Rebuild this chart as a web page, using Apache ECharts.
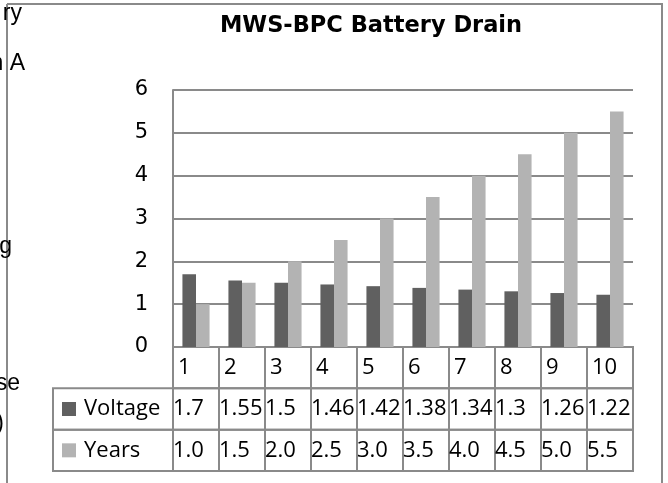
<!DOCTYPE html>
<html><head><meta charset="utf-8">
<script src="https://cdn.jsdelivr.net/npm/echarts@6/dist/echarts.min.js"></script>
<style>html,body{margin:0;padding:0;background:#fff}#c{width:668px;height:483px}</style>
</head><body><div id="c"></div>
<script>
// ---- data ----
const titleText = 'MWS-BPC Battery Drain';
const categories = ['1','2','3','4','5','6','7','8','9','10'];
const seriesNames = ['Voltage','Years'];
const voltage = [1.7, 1.55, 1.5, 1.46, 1.42, 1.38, 1.34, 1.3, 1.26, 1.22];
const years = [1.0, 1.5, 2.0, 2.5, 3.0, 3.5, 4.0, 4.5, 5.0, 5.5];
const yMin = 0, yMax = 6, yStep = 1;
const sideTexts = ['ry', 'n A', 'g', 'se', ')'];

// ---- styles ----
const colors = ['#606060', '#b3b3b3'];
const lineColor = '#8a8a8a';
const tableFont = '22px "Open Sans"';
const legendColW = 120;

const voltageText = voltage.map(v => String(v));
const yearsText = years.map(v => v.toFixed(1));
const rowTexts = [voltageText, yearsText];

const cells = [];
categories.forEach((c, i) => {
  cells.push({ value: [i, 0], text: c, kind: 'cat' });
  rowTexts.forEach((arr, r) => cells.push({ value: [i, r + 1], text: arr[i], kind: 'val' }));
});
seriesNames.forEach((n, r) => cells.push({ value: [0, r + 1], text: n, kind: 'legend', color: colors[r] }));

function renderCell(params, api) {
  const cell = cells[params.dataIndex];
  const c = api.coord([api.value(0), api.value(1)]);
  const sz = api.size([1, 1]);
  let w = sz[0], h = sz[1];
  let x = c[0] - w / 2, y = c[1] - h / 2;
  const children = [];
  if (cell.kind === 'legend') {
    w = legendColW; x = x - legendColW;
    children.push({ type: 'rect', shape: { x: x, y: y, width: w, height: h },
      style: { fill: 'none', stroke: lineColor, lineWidth: 2 } });
    children.push({ type: 'rect', shape: { x: x + 9, y: y + h / 2 - 7, width: 14, height: 14 },
      style: { fill: cell.color } });
    children.push({ type: 'text', style: { text: cell.text, x: x + 31, y: y + h / 2,
      verticalAlign: 'middle', align: 'left', font: tableFont, fill: '#000' } });
  } else {
    children.push({ type: 'rect', shape: { x: x, y: y, width: w, height: h },
      style: { fill: 'none', stroke: lineColor, lineWidth: 2 } });
    children.push({ type: 'text', style: { text: cell.text, x: x + (cell.kind === 'cat' ? 5 : 0), y: y + h / 2,
      verticalAlign: 'middle', align: 'left', font: tableFont, fill: '#000' } });
  }
  return { type: 'group', children: children };
}

const sideY = [14, 64, 247, 384, 424];
const sideX = [22, 25, 12, 20, 4];
const graphics = [
  { type: 'line', shape: { x1: 7, y1: 4, x2: 663, y2: 4 }, style: { stroke: lineColor, lineWidth: 2 } },
  { type: 'line', shape: { x1: 7, y1: 4, x2: 7, y2: 483 }, style: { stroke: lineColor, lineWidth: 2 } },
  { type: 'line', shape: { x1: 662, y1: 4, x2: 662, y2: 483 }, style: { stroke: lineColor, lineWidth: 2 } }
].concat(sideTexts.map((t, i) => ({
  type: 'text', x: sideX[i], y: sideY[i], z: 10,
  style: { text: t, align: 'right', verticalAlign: 'middle', font: '23px "Liberation Sans"', fill: '#000' }
})));

const chart = echarts.init(document.getElementById('c'), null, { renderer: 'canvas' });
chart.setOption({
  animation: false,
  backgroundColor: '#fff',
  title: {
    text: titleText, left: 366, top: 10, textAlign: 'center',
    textStyle: { fontFamily: 'DejaVu Sans', fontWeight: 'bold', fontSize: 22.5, color: '#000' }
  },
  graphic: graphics,
  grid: [
    { left: 173, right: 35, top: 90, bottom: 136 },
    { left: 173, right: 35, top: 347, bottom: 12 }
  ],
  xAxis: [
    { type: 'category', gridIndex: 0, data: categories, axisLabel: { show: false }, axisTick: { show: false },
      axisLine: { lineStyle: { color: lineColor, width: 2 } } },
    { type: 'category', gridIndex: 1, data: categories, show: false }
  ],
  yAxis: [
    { type: 'value', gridIndex: 0, min: yMin, max: yMax, interval: yStep,
      axisLine: { show: true, lineStyle: { color: lineColor, width: 2 } }, axisTick: { show: false },
      axisLabel: { color: '#000', fontFamily: 'DejaVu Sans', fontSize: 21, margin: 25 },
      splitLine: { lineStyle: { color: lineColor, width: 2 } } },
    { type: 'category', gridIndex: 1, data: ['', seriesNames[0], seriesNames[1]], inverse: true, show: false }
  ],
  series: [
    { name: seriesNames[0], type: 'bar', xAxisIndex: 0, yAxisIndex: 0, data: voltage,
      itemStyle: { color: colors[0] }, barGap: '0%', barCategoryGap: '41%' },
    { name: seriesNames[1], type: 'bar', xAxisIndex: 0, yAxisIndex: 0, data: years,
      itemStyle: { color: colors[1] }, barGap: '0%', barCategoryGap: '41%' },
    { type: 'custom', xAxisIndex: 1, yAxisIndex: 1, data: cells.map(c => c.value), renderItem: renderCell, clip: false, silent: true }
  ]
});
</script></body></html>
